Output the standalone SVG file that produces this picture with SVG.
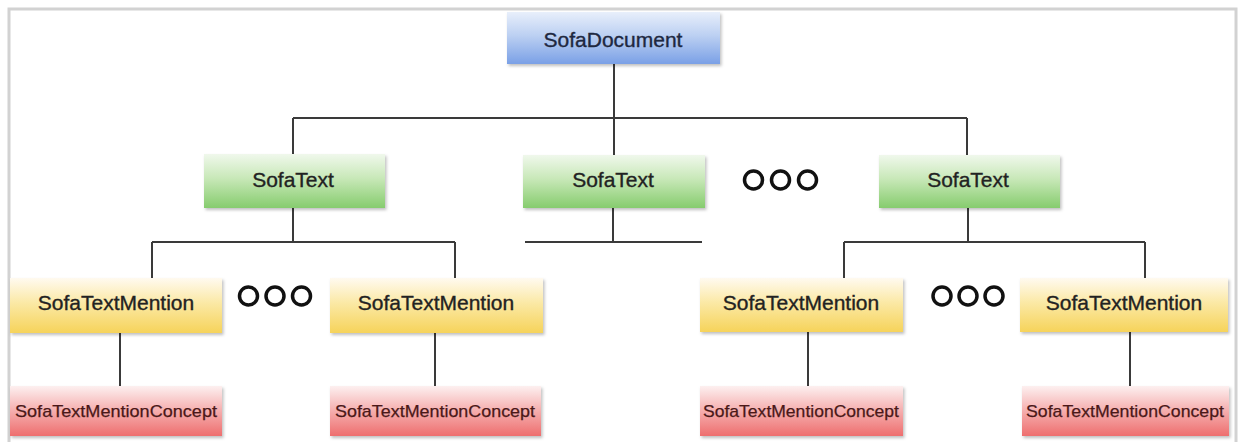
<svg xmlns="http://www.w3.org/2000/svg" width="1238" height="442" viewBox="0 0 1238 442">
  <defs>
    <linearGradient id="gBlue" x1="0" y1="0" x2="0" y2="1">
      <stop offset="0" stop-color="#e8effb"/>
      <stop offset="0.45" stop-color="#bcd0f2"/>
      <stop offset="1" stop-color="#7aa0e6"/>
    </linearGradient>
    <linearGradient id="gGreen" x1="0" y1="0" x2="0" y2="1">
      <stop offset="0" stop-color="#f0f8ec"/>
      <stop offset="0.45" stop-color="#c8e8b8"/>
      <stop offset="1" stop-color="#86cc6e"/>
    </linearGradient>
    <linearGradient id="gYellow" x1="0" y1="0" x2="0" y2="1">
      <stop offset="0" stop-color="#fffaf0"/>
      <stop offset="0.45" stop-color="#fbe9a6"/>
      <stop offset="1" stop-color="#f6d35a"/>
    </linearGradient>
    <linearGradient id="gRed" x1="0" y1="0" x2="0" y2="1">
      <stop offset="0" stop-color="#fdf0f0"/>
      <stop offset="0.45" stop-color="#f6b4b4"/>
      <stop offset="1" stop-color="#ee6e6e"/>
    </linearGradient>
    <filter id="shadow" x="-5%" y="-10%" width="115%" height="130%">
      <feDropShadow dx="1.5" dy="2" stdDeviation="1.5" flood-color="#000" flood-opacity="0.25"/>
    </filter>
  </defs>
  <style>
    .box { filter: url(#shadow); }
    .lbl { font-family: "Liberation Sans", Arial, sans-serif; font-size: 21px; fill: #222222; stroke: #222222; stroke-width: 0.35; text-anchor: middle; }
    .doc { fill: #1e2840; stroke: #1e2840; }
    .lblsm { font-family: "Liberation Sans", Arial, sans-serif; font-size: 17px; fill: #4a1818; stroke: #4a1818; stroke-width: 0.25; text-anchor: middle; }
    .wire { fill: none; stroke: #3a3a3a; stroke-width: 2; }
    .dot { fill: none; stroke: #111; stroke-width: 3.5; }
  </style>

  <rect width="1238" height="442" fill="#ffffff"/>
  <!-- outer frame -->
  <rect x="9" y="9" width="1227" height="460" fill="none" stroke="#d2d2d2" stroke-width="3"/>

  <!-- connectors -->
  <g id="connectors">
    <path class="wire" d="M614 64 V118 M293 118 H967 M293 118 V154 M614 118 V155 M967 118 V155"/>
    <path class="wire" d="M293 208 V242 M152 242 H455 M152 242 V278 M455 242 V278"/>
    <path class="wire" d="M613 208 V242 M525 242 H702"/>
    <path class="wire" d="M968 208 V242 M844 242 H1145 M844 242 V278 M1145 242 V278"/>
    <path class="wire" d="M120 333 V386 M435 333 V386 M808 332 V386 M1130 332 V386"/>
  </g>

  <!-- ellipsis markers -->
  <g id="more-texts">
    <circle class="dot" cx="753.5" cy="180" r="9"/>
    <circle class="dot" cx="780.5" cy="180" r="9"/>
    <circle class="dot" cx="807.5" cy="180" r="9"/>
  </g>
  <g id="more-mentions-left">
    <circle class="dot" cx="248.5" cy="296" r="9"/>
    <circle class="dot" cx="275" cy="296" r="9"/>
    <circle class="dot" cx="301.5" cy="296" r="9"/>
  </g>
  <g id="more-mentions-right">
    <circle class="dot" cx="942" cy="296" r="9"/>
    <circle class="dot" cx="968" cy="296" r="9"/>
    <circle class="dot" cx="994" cy="296" r="9"/>
  </g>

  <!-- document -->
  <g id="doc">
    <rect class="box" x="507" y="12" width="213" height="52" fill="url(#gBlue)"/>
    <text class="lbl doc" x="613" y="47">SofaDocument</text>
  </g>

  <!-- texts -->
  <g id="text1">
    <rect class="box" x="204" y="154" width="181" height="54" fill="url(#gGreen)"/>
    <text class="lbl" x="293" y="187">SofaText</text>
  </g>
  <g id="text2">
    <rect class="box" x="523" y="155" width="182" height="53" fill="url(#gGreen)"/>
    <text class="lbl" x="613" y="187">SofaText</text>
  </g>
  <g id="text3">
    <rect class="box" x="879" y="155" width="181" height="53" fill="url(#gGreen)"/>
    <text class="lbl" x="968" y="187">SofaText</text>
  </g>

  <!-- mentions -->
  <g id="mention1">
    <rect class="box" x="10" y="278" width="212" height="55" fill="url(#gYellow)"/>
    <text class="lbl" x="116" y="310">SofaTextMention</text>
  </g>
  <g id="mention2">
    <rect class="box" x="330" y="278" width="213" height="55" fill="url(#gYellow)"/>
    <text class="lbl" x="436" y="310">SofaTextMention</text>
  </g>
  <g id="mention3">
    <rect class="box" x="700" y="278" width="203" height="54" fill="url(#gYellow)"/>
    <text class="lbl" x="801" y="310">SofaTextMention</text>
  </g>
  <g id="mention4">
    <rect class="box" x="1020" y="278" width="208" height="54" fill="url(#gYellow)"/>
    <text class="lbl" x="1124" y="310">SofaTextMention</text>
  </g>

  <!-- concepts -->
  <g id="concept1">
    <rect class="box" x="10" y="386" width="212" height="50" fill="url(#gRed)"/>
    <text class="lblsm" x="116" y="417" textLength="202" lengthAdjust="spacingAndGlyphs">SofaTextMentionConcept</text>
  </g>
  <g id="concept2">
    <rect class="box" x="330" y="386" width="211" height="50" fill="url(#gRed)"/>
    <text class="lblsm" x="435" y="417" textLength="200" lengthAdjust="spacingAndGlyphs">SofaTextMentionConcept</text>
  </g>
  <g id="concept3">
    <rect class="box" x="700" y="386" width="203" height="50" fill="url(#gRed)"/>
    <text class="lblsm" x="801" y="417" textLength="196" lengthAdjust="spacingAndGlyphs">SofaTextMentionConcept</text>
  </g>
  <g id="concept4">
    <rect class="box" x="1022" y="386" width="207" height="50" fill="url(#gRed)"/>
    <text class="lblsm" x="1125" y="417" textLength="198" lengthAdjust="spacingAndGlyphs">SofaTextMentionConcept</text>
  </g>
</svg>
